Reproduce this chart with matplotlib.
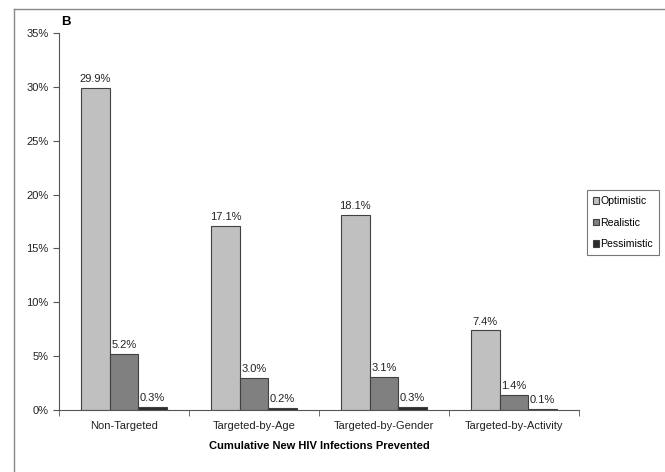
import numpy as np
import matplotlib.pyplot as plt
from matplotlib.lines import Line2D
from matplotlib.ticker import FuncFormatter

categories = ['Non-Targeted', 'Targeted-by-Age', 'Targeted-by-Gender', 'Targeted-by-Activity']
optimistic = [29.9, 17.1, 18.1, 7.4]
realistic = [5.2, 3.0, 3.1, 1.4]
pessimistic = [0.3, 0.2, 0.3, 0.1]
series_names = ['Optimistic', 'Realistic', 'Pessimistic']
colors = ['#c0c0c0', '#808080', '#2b2b2b']

plt.rcParams['font.family'] = ['Liberation Sans', 'DejaVu Sans']

fig = plt.figure(figsize=(6.65, 4.72), dpi=100)
ax = fig.add_axes([0.0887, 0.1314, 0.782, 0.7986])

x = np.arange(len(categories))
w = 0.22
for i, (vals, name, c) in enumerate(zip([optimistic, realistic, pessimistic], series_names, colors)):
    pos = x + (i - 1) * w
    ax.bar(pos, vals, width=w, color=c, edgecolor='#404040', linewidth=0.8, label=name)
    for p, v in zip(pos, vals):
        ax.text(p, v + 0.35, '%.1f%%' % v, ha='center', va='bottom', fontsize=8, color='#222222')

ax.set_xlim(-0.5, len(categories) - 0.5)
ax.set_ylim(0, 35)
ax.set_yticks(np.arange(0, 36, 5))
ax.yaxis.set_major_formatter(FuncFormatter(lambda v, _: '%d%%' % v))
ax.set_xticks(x)
ax.set_xticklabels(categories)
ax.set_xticks(np.arange(-0.5, len(categories), 1), minor=True)
ax.tick_params(axis='x', which='major', length=0, pad=8, labelsize=8, colors='#222222')
ax.tick_params(axis='x', which='minor', length=4, color='#555555')
ax.tick_params(axis='y', length=4, labelsize=8, colors='#222222', color='#555555')
for s in ['top', 'right']:
    ax.spines[s].set_visible(False)
for s in ['left', 'bottom']:
    ax.spines[s].set_color('#555555')

ax.set_xlabel('Cumulative New HIV Infections Prevented', fontsize=8, fontweight='bold', labelpad=7)
ax.text(0.005, 1.03, 'B', transform=ax.transAxes, fontsize=9.5, fontweight='bold', ha='left', va='center')

leg = ax.legend(loc='center left', bbox_to_anchor=(1.015, 0.497), fontsize=7.6, handlelength=0.6,
                handleheight=0.6, handletextpad=0.15, labelspacing=1.1, borderpad=0.55,
                borderaxespad=0, fancybox=False, edgecolor='#777777', framealpha=1)
leg.get_frame().set_linewidth(0.8)

# outer figure border
fig.add_artist(Line2D([14 / 665, 14 / 665], [0, 1 - 9 / 472], transform=fig.transFigure, color='#888888', lw=1))
fig.add_artist(Line2D([14 / 665, 1], [1 - 9 / 472, 1 - 9 / 472], transform=fig.transFigure, color='#888888', lw=1))

fig.savefig('out.png', dpi=100)
